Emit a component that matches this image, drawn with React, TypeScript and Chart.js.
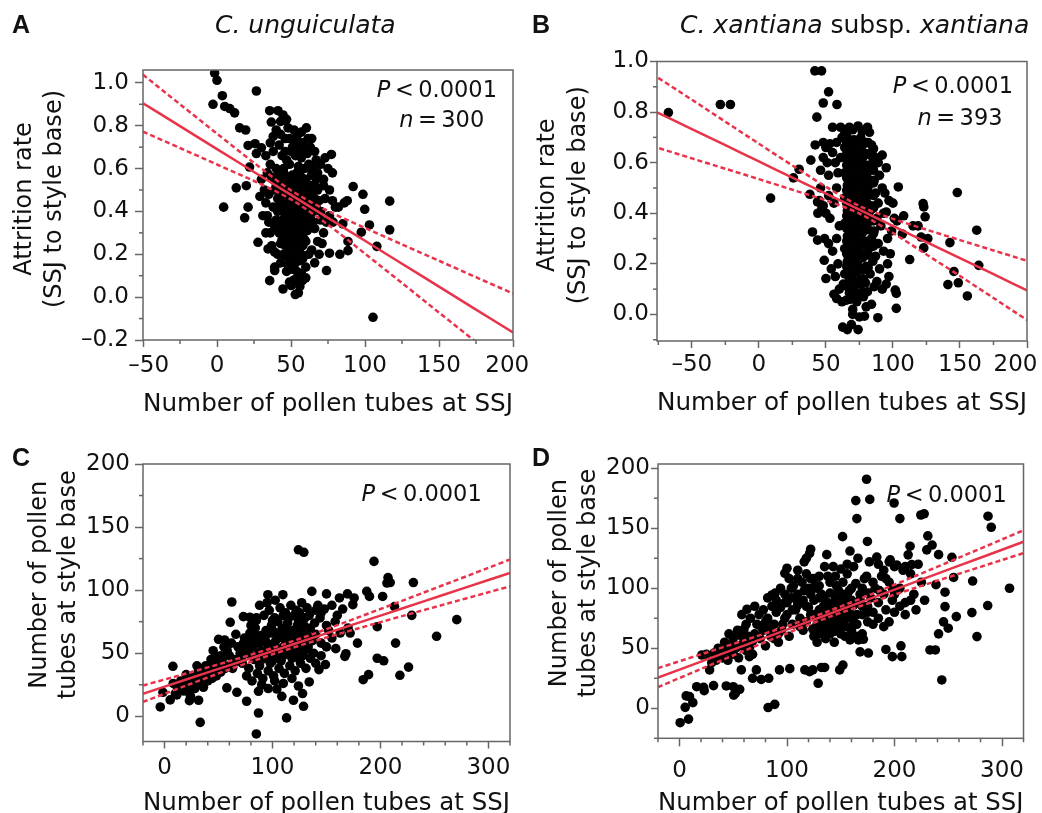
import React, { useEffect, useRef } from "react";
import { Chart, registerables } from "chart.js";

Chart.register(...registerables);

type Pt = [number, number];

const FONT = "'DejaVu Sans', 'Noto Sans', sans-serif";
const BOLD_FONT = "'Liberation Sans', Arial, sans-serif";
const RED = "#e8344b";
const AXIS = "#666666";
const INK = "#111111";

// ---------- Panel A: C. unguiculata, attrition vs pollen tubes at SSJ ----------
const pointsA: Pt[] = [
  [-1.6, 1.046], [0, 1.012], [26.6, 0.962], [3.6, 0.94], [-2.7, 0.9], [5.2, 0.89], [8.6, 0.88], [11.9, 0.86],
  [15.3, 0.79], [19.4, 0.78], [4.5, 0.42], [13, 0.51], [19.8, 0.52], [18.7, 0.37], [21, 0.42], [27.7, 0.256],
  [22, 0.607], [21, 0.708], [25.7, 0.716], [30, 0.697], [26.6, 0.67], [35.6, 0.87], [41.2, 0.87], [44.6, 0.85],
  [45.7, 0.825], [36.7, 0.817], [60.4, 0.79], [61.5, 0.74], [77.3, 0.666], [92, 0.516], [98.6, 0.48], [99.8, 0.41],
  [116.7, 0.448], [103, 0.337], [97.5, 0.303], [108, 0.237], [116.7, 0.314], [105.4, -0.094], [88.5, 0.26],
  [88.5, 0.217], [85, 0.342], [78.4, 0.35], [83, 0.2], [76, 0.205], [74, 0.124], [35.6, 0.077], [39, 0.124],
  [39, 0.14], [44.6, 0.038], [50.2, 0.054], [52.9, 0.012], [53.6, 0.085], [57.7, 0.077], [34.5, 0.225], [39, 0.21],
  [30, 0.55], [33, 0.44], [29, 0.47], [31, 0.38],
  [67, 0.64], [70, 0.62], [75, 0.6], [72, 0.55], [78, 0.58], [68, 0.5], [73, 0.46], [80, 0.42], [82, 0.42],
  [86, 0.44], [88, 0.45], [76, 0.38], [70, 0.36], [66, 0.32], [72, 0.3], [68, 0.26], [64, 0.22], [62, 0.2],
  [66, 0.16], [60, 0.14], [58, 0.18],
  [40, 0.78], [43, 0.76], [46, 0.74], [48, 0.79], [52, 0.73], [55, 0.7], [58, 0.72], [50, 0.68], [44, 0.66],
  [47, 0.64], [53, 0.66], [57, 0.65], [61, 0.67], [63, 0.7], [42, 0.71], [38, 0.68], [36, 0.62], [40, 0.6],
  [45, 0.6], [49, 0.62], [55, 0.61], [59, 0.6], [62, 0.62], [65, 0.6],
  [45, 0.58], [48, 0.56], [51, 0.57], [54, 0.58], [57, 0.56], [60, 0.55], [46, 0.53], [49, 0.52], [52, 0.54],
  [55, 0.52], [58, 0.51], [61, 0.5], [44, 0.49], [47, 0.48], [50, 0.49], [53, 0.47], [56, 0.48], [59, 0.46],
  [62, 0.47], [45, 0.44], [48, 0.43], [51, 0.44], [54, 0.42], [57, 0.43], [60, 0.41], [63, 0.43], [46, 0.39],
  [49, 0.38], [52, 0.4], [55, 0.37], [58, 0.38], [61, 0.36], [44, 0.34], [47, 0.33], [50, 0.35], [53, 0.32],
  [56, 0.33], [59, 0.31], [62, 0.34], [45, 0.29], [48, 0.28], [51, 0.3], [54, 0.27], [57, 0.28], [60, 0.26],
  [43, 0.25], [46, 0.24], [49, 0.23], [52, 0.25], [55, 0.22], [58, 0.24], [47, 0.19], [50, 0.18], [53, 0.2],
  [56, 0.17], [51, 0.13], [54, 0.12], [48, 0.15], [57, 0.11], [42, 0.3], [40, 0.36], [38, 0.42], [41, 0.46],
  [39, 0.5], [42, 0.54], [37, 0.56], [64, 0.52], [66, 0.46], [65, 0.4], [67, 0.55], [35, 0.48], [34, 0.38],
  [36, 0.3], [37, 0.24], [41, 0.2], [43, 0.16], [56, 0.05], [60, 0.09], [52, 0.08], [55, 0.02], [49, 0.07],
  [46.5, 0.555], [49.5, 0.545], [52.5, 0.56], [55.5, 0.545], [58.5, 0.535], [61.5, 0.525], [44.5, 0.51],
  [47.5, 0.505], [50.5, 0.515], [53.5, 0.5], [56.5, 0.5], [59.5, 0.49], [63, 0.49], [43, 0.465], [46, 0.46],
  [49, 0.465], [52, 0.455], [55, 0.46], [58, 0.45], [61, 0.445], [64, 0.46], [44, 0.415], [47, 0.41], [50, 0.42],
  [53, 0.41], [56, 0.405], [59, 0.4], [62, 0.41], [45, 0.365], [48, 0.36], [51, 0.37], [54, 0.355], [57, 0.36],
  [60, 0.35], [63, 0.37], [43, 0.32], [46, 0.31], [49, 0.315], [52, 0.3], [55, 0.305], [58, 0.3], [61, 0.31],
  [44, 0.27], [47, 0.26], [50, 0.265], [53, 0.255], [56, 0.26], [59, 0.27], [48, 0.21], [51, 0.2], [54, 0.21],
  [57, 0.2], [45, 0.2], [50, 0.155], [53, 0.16], [47, 0.12], [46, 0.68], [51, 0.7], [54, 0.75], [49, 0.74],
  [56, 0.67], [60, 0.69], [42, 0.58], [38, 0.55], [40, 0.52], [41, 0.4], [39, 0.33], [43, 0.44], [64, 0.57],
  [66, 0.52], [68, 0.58], [63, 0.6], [65, 0.35], [67, 0.42], [69, 0.45], [47, 0.83], [43, 0.82], [57, 0.77],
  [52, 0.78],
  [32, 0.5], [34, 0.58], [33, 0.66], [36, 0.72], [38, 0.75], [35, 0.35], [33, 0.3], [70, 0.4], [72, 0.52],
  [74, 0.35], [76, 0.5], [78, 0.45], [71, 0.25], [69, 0.2], [73, 0.65], [64, 0.74], [66, 0.68],
];
const lineXA = [-50, -25, 0, 25, 50, 75, 100, 125, 150, 175, 200];
const fitA = [0.905, 0.798, 0.691, 0.584, 0.477, 0.37, 0.263, 0.156, 0.049, -0.058, -0.165];
const upA = [1.038, 0.9, 0.763, 0.627, 0.498, 0.402, 0.323, 0.246, 0.17, 0.093, 0.017];
const loA = [0.772, 0.696, 0.619, 0.542, 0.456, 0.338, 0.203, 0.066, -0.072, -0.209, -0.347];

// ---------- Panel B: C. xantiana subsp. xantiana ----------
const pointsB: Pt[] = [
  [-67.5, 0.798], [-28.75, 0.83], [-21.25, 0.83], [8.75, 0.46], [25.75, 0.54], [30, 0.574], [38, 0.475],
  [41.75, 0.963], [46.75, 0.963], [52, 0.88], [48, 0.836], [58.25, 0.83], [43.25, 0.78], [38.75, 0.61], [42, 0.67],
  [48, 0.68], [50, 0.66], [53, 0.675], [40, 0.326], [43.75, 0.294], [48.75, 0.214], [50, 0.142], [56, 0.08],
  [58, 0.063], [65, 0.056], [70, 0.0], [74, -0.06], [62.5, -0.05], [66, -0.06], [78.75, -0.007], [88.75, -0.013],
  [102.5, 0.024], [101.75, 0.096], [102.5, 0.083], [104, 0.504], [108, 0.39], [107, 0.318], [112.5, 0.217],
  [115, 0.35], [118.75, 0.35], [122.5, 0.438], [123, 0.425], [124, 0.386], [121, 0.306], [126, 0.3], [123, 0.263],
  [148, 0.482], [142.5, 0.284], [145.5, 0.17], [148.75, 0.125], [141, 0.118], [155.5, 0.073], [162.5, 0.333],
  [164, 0.194], [95, 0.405], [100, 0.44], [101, 0.38], [103, 0.37], [43.75, 0.445], [48, 0.43],
  [55, 0.74], [61, 0.74], [67.5, 0.74], [74, 0.745], [81, 0.74], [82.5, 0.72], [64, 0.725], [70, 0.73], [77, 0.725],
  [46, 0.57], [48, 0.62], [51, 0.6], [52, 0.55], [55, 0.64], [57, 0.6], [45, 0.45], [47, 0.42], [50, 0.4],
  [53, 0.38], [56, 0.44], [58, 0.5], [49, 0.3], [52, 0.28], [55, 0.25], [58, 0.3], [54, 0.18], [57, 0.15],
  [59, 0.2], [60, 0.1], [62, 0.05], [63, 0.12], [60, 0.35], [59, 0.56], [58, 0.68], [62, 0.7], [61, 0.62],
  [44, 0.4], [46, 0.5], [52, 0.47],
  [66, 0.7], [71, 0.69], [76, 0.7], [80, 0.68], [84, 0.67],
  [64, 0.66], [69, 0.65], [73, 0.67], [78, 0.64], [83, 0.63], [87, 0.62],
  [66, 0.61], [71, 0.6], [75, 0.62], [79, 0.59], [85, 0.58], [89, 0.6],
  [64, 0.56], [68, 0.55], [73, 0.57], [77, 0.54], [81, 0.56], [86, 0.53], [90, 0.55],
  [66, 0.51], [70, 0.5], [74, 0.52], [78, 0.49], [82, 0.51], [87, 0.48], [92, 0.5],
  [64, 0.46], [69, 0.45], [72, 0.47], [76, 0.44], [80, 0.46], [84, 0.43], [89, 0.44],
  [66, 0.41], [71, 0.4], [75, 0.42], [79, 0.39], [83, 0.41], [88, 0.38], [93, 0.4],
  [64, 0.36], [68, 0.35], [73, 0.37], [77, 0.34], [81, 0.36], [86, 0.33], [91, 0.35],
  [66, 0.31], [70, 0.3], [75, 0.32], [79, 0.29], [84, 0.3], [89, 0.28],
  [64, 0.26], [69, 0.25], [73, 0.27], [77, 0.24], [82, 0.26], [87, 0.23], [93, 0.25],
  [66, 0.21], [71, 0.2], [75, 0.22], [80, 0.19], [85, 0.21], [90, 0.18], [96, 0.2],
  [64, 0.16], [69, 0.15], [73, 0.17], [78, 0.14], [83, 0.16], [88, 0.13], [97, 0.15],
  [66, 0.11], [71, 0.1], [76, 0.12], [81, 0.09], [86, 0.11], [92, 0.1],
  [68, 0.06], [73, 0.05], [78, 0.07], [84, 0.04], [70, 0.02], [75, -0.01], [80, 0.03], [69, -0.04],
  [92, 0.63], [95, 0.58], [94, 0.48], [97, 0.45], [96, 0.3], [99, 0.33], [98, 0.24], [95, 0.12],
  [65.5, 0.68], [69.5, 0.675], [73.5, 0.685], [77.5, 0.67], [81.5, 0.68], [85.5, 0.655],
  [65.5, 0.635], [69.5, 0.625], [73.5, 0.64], [77.5, 0.62], [81.5, 0.635], [85.5, 0.61],
  [65.5, 0.59], [69.5, 0.58], [73.5, 0.595], [77.5, 0.575], [81.5, 0.59], [85.5, 0.57],
  [65.5, 0.54], [69.5, 0.53], [73.5, 0.545], [77.5, 0.525], [81.5, 0.535], [85.5, 0.52],
  [65.5, 0.49], [69.5, 0.48], [73.5, 0.495], [77.5, 0.475], [81.5, 0.485], [85.5, 0.47],
  [65.5, 0.44], [69.5, 0.43], [73.5, 0.445], [77.5, 0.425], [81.5, 0.435], [85.5, 0.42],
  [65.5, 0.39], [69.5, 0.38], [73.5, 0.395], [77.5, 0.375], [81.5, 0.385], [85.5, 0.37],
  [65.5, 0.34], [69.5, 0.33], [73.5, 0.345], [77.5, 0.325], [81.5, 0.335], [85.5, 0.32],
  [65.5, 0.29], [69.5, 0.28], [73.5, 0.295], [77.5, 0.275], [81.5, 0.285], [85.5, 0.27],
  [65.5, 0.24], [69.5, 0.23], [73.5, 0.245], [77.5, 0.225], [81.5, 0.235],
  [65.5, 0.19], [69.5, 0.18], [73.5, 0.195], [77.5, 0.175], [81.5, 0.185],
  [67.5, 0.135], [71.5, 0.13], [75.5, 0.14], [79.5, 0.125], [67.5, 0.085], [72.5, 0.08], [77.5, 0.09],
];
const lineXB = [-80, -50, -25, 0, 25, 50, 75, 100, 125, 150, 175, 200];
const fitB = [0.809, 0.733, 0.669, 0.605, 0.541, 0.478, 0.414, 0.35, 0.286, 0.223, 0.159, 0.095];
const upB = [0.952, 0.849, 0.762, 0.675, 0.589, 0.505, 0.429, 0.378, 0.335, 0.294, 0.253, 0.212];
const loB = [0.666, 0.617, 0.576, 0.535, 0.493, 0.451, 0.399, 0.322, 0.237, 0.152, 0.065, -0.022];

// ---------- Panel C: C. unguiculata, tubes at style base vs at SSJ ----------
const pointsC: Pt[] = [
  [-4, 7.4], [-1.5, 19], [7.7, 39.6], [5.2, 13], [11.4, 17], [14.5, 21.7], [17.6, 27], [22, 28], [27, 25],
  [31.5, 28.5], [36, 23], [23, 12.4], [31.5, 12.7], [33, -4.8], [31.5, 35.7], [34.6, 37], [43, 45], [47, 47.5],
  [51.5, 42], [50, 61], [55.6, 60.5], [60.8, 74.5], [62.3, 90.6], [57.7, 22.5], [67, 19], [76, 11.9], [87, 2.6],
  [85, -14], [87, 19.8], [104, 21.6], [108.6, 15.8], [113, -1.3], [119.4, 12.7], [128.7, 7.9], [127.8, 18],
  [134, 27.2], [95.7, 96.4], [102.5, 92], [109.6, 96.4], [73, 79], [79, 78.5], [85, 78], [124, 132], [129, 130],
  [136.4, 99], [150, 97], [162, 93.8], [169.4, 97], [175.6, 93.8], [174.4, 88.5], [187.3, 99], [189.8, 95],
  [194, 122.8], [202, 95], [207, 110], [209, 106], [206, 105.6], [230.5, 106], [213, 87], [229, 80], [197, 71],
  [214, 58], [197, 46], [203, 44], [184, 29], [189, 33], [218, 32.5], [226, 39], [252, 63.4], [270.7, 76.6],
  [178.7, 58], [167, 47.5], [168, 49.6], [170, 70], [171.9, 66], [162.7, 66], [158.6, 53.6], [149, 41], [143, 37],
  [70, 50], [75, 55], [80, 48], [85, 60], [90, 52], [95, 58], [100, 50], [105, 62], [110, 55], [115, 65],
  [120, 58], [125, 68], [130, 62], [135, 70], [140, 65],
  [72, 42], [78, 38], [83, 45], [88, 40], [93, 46], [98, 42], [103, 48], [108, 44], [113, 50], [118, 46],
  [123, 52], [128, 48], [133, 55], [138, 50], [145, 58],
  [74, 62], [79, 66], [84, 70], [89, 64], [94, 68], [99, 72], [104, 66], [109, 70], [114, 74], [119, 68],
  [124, 76], [129, 72], [134, 80], [139, 74], [144, 78], [150, 72],
  [76, 32], [81, 28], [86, 34], [91, 30], [96, 36], [101, 32], [106, 38], [111, 34], [116, 40], [121, 36],
  [126, 42], [131, 38],
  [65, 45], [68, 55], [63, 38], [60, 48], [58, 52], [55, 40], [52, 48], [48, 36], [45, 38], [40, 33], [38, 40],
  [35, 30], [28, 32], [25, 22], [20, 25], [15, 28], [10, 18],
  [92, 80], [97, 84], [102, 78], [107, 86], [112, 82], [117, 88], [122, 84], [127, 90], [132, 86], [85, 76],
  [80, 72], [88, 88], [95, 90], [100, 76],
  [140, 42], [145, 48], [150, 55], [155, 62], [152, 68], [158, 75], [148, 85], [142, 88], [160, 80], [165, 85],
  [90, 25], [96, 22], [102, 28], [110, 26], [118, 30], [124, 24],
  [18, 20], [22, 24], [26, 30], [30, 33], [34, 34], [38, 36], [42, 38], [46, 42], [50, 44], [54, 46], [24, 16],
  [28, 22], [35, 26], [40, 28], [44, 30], [48, 32], [52, 35], [56, 38], [60, 40], [64, 42], [12, 22], [8, 26],
  [20, 33], [30, 40], [45, 52], [55, 55], [62, 58], [66, 65],
  [72, 48], [77, 52], [82, 55], [87, 50], [92, 60], [97, 54], [102, 56], [107, 52], [112, 60], [117, 56],
  [122, 62], [127, 58], [132, 64], [137, 60], [73, 58], [78, 60], [83, 64], [88, 58], [93, 62], [98, 66],
  [103, 60], [108, 64], [113, 68], [118, 62], [123, 72], [128, 66], [90, 45], [95, 48], [100, 44], [105, 46],
  [110, 48], [115, 52], [120, 50], [125, 45], [130, 52], [135, 46], [100, 68], [105, 75], [110, 80], [115, 78],
  [120, 80], [125, 82], [130, 78], [140, 84], [145, 82], [155, 88],
];
const lineXC = [-20, 20, 60, 100, 140, 180, 220, 260, 300, 320];
const fitC = [17.87, 29.13, 40.4, 51.67, 62.94, 74.21, 85.47, 96.74, 108.01, 113.64];
const upC = [24.37, 33.91, 43.7, 54.18, 65.95, 78.59, 91.53, 104.59, 117.7, 124.26];
const loC = [11.37, 24.35, 37.1, 49.16, 59.93, 69.83, 79.41, 88.89, 98.32, 103.02];

// ---------- Panel D: C. xantiana, tubes at style base vs at SSJ ----------
const pointsD: Pt[] = [
  [0.6, -12], [8.4, -9], [5.3, 0.8], [6.2, 10.3], [9.3, 9.7], [12.4, 4.7], [16, 18], [22.4, 17.5], [23, 14.7],
  [20.8, 44.4], [31.7, 18.9], [35.8, 47.8], [40, 50], [45, 48.6], [43.5, 18.6], [50, 18], [52, 12.5], [56, 15.8],
  [50.4, 11], [54.4, 62], [62.8, 82.5], [82.4, 0.6], [88.6, 3.3], [68, 25], [76, 24], [83, 25], [57.5, 32],
  [65, 43], [71.5, 32], [93, 32], [102.6, 33], [86, 94.4], [89, 96], [98, 112.5], [100, 116.7], [116, 122],
  [118, 125], [121, 129], [122, 132.5], [137, 128], [151.7, 143], [158.6, 131], [164, 173], [165, 158],
  [174, 190.8], [177, 174], [174.8, 139], [176.6, 122], [183.5, 126], [199.6, 171], [205, 158], [214.5, 135],
  [212.7, 127.8], [224.5, 161], [227.6, 162], [231, 143.6], [230, 132], [235, 136], [241, 128], [238.6, 103],
  [247, 96.7], [245.6, 72], [247, 84.7], [241, 62], [233, 48.6], [238, 48.6], [244, 23.6], [250, 66.7],
  [257.5, 76.4], [253.4, 125.8], [255, 109], [272.7, 106], [272, 79.7], [276.7, 59.7], [286.7, 85.6],
  [287, 160], [290, 150.8], [307, 100], [192, 49], [198, 43], [206.8, 43], [206, 52], [168, 47], [175.7, 46],
  [171, 57.5], [149, 32], [152, 36], [121, 30.5], [116.6, 32], [124, 32], [129, 20.8], [132, 34], [135, 34],
  [158.6, 57], [166.4, 57], [210, 118], [216, 119.7], [196, 123.6], [202, 119.4],
  [45, 40], [50, 45], [55, 42], [48, 52], [60, 55], [65, 50], [58, 60], [70, 62], [62, 48], [68, 45], [75, 58],
  [72, 70], [78, 65], [80, 52], [85, 60], [82, 75], [88, 70], [90, 80], [95, 65], [92, 55], [98, 75], [100, 88],
  [105, 70], [102, 60], [108, 82], [110, 95], [112, 75], [115, 65], [118, 85], [120, 100], [122, 78], [125, 90],
  [128, 70], [130, 82], [132, 95], [135, 75], [138, 88], [140, 68], [142, 80], [145, 92], [148, 76], [150, 85],
  [152, 70], [155, 90], [158, 80], [160, 100], [162, 72], [165, 88], [168, 95], [170, 78], [172, 108], [175, 85],
  [178, 92], [180, 70], [182, 100], [185, 88], [188, 110], [190, 95], [192, 82], [195, 105], [198, 90],
  [200, 118], [205, 100], [208, 115], [210, 88], [215, 112], [218, 95], [222, 120], [225, 105], [228, 90],
  [125, 60], [128, 55], [132, 65], [136, 58], [140, 62], [144, 55], [138, 72], [134, 85], [130, 92], [126, 102],
  [122, 108], [118, 112], [114, 105], [110, 115], [106, 102], [102, 108], [98, 95], [94, 100], [90, 90],
  [86, 85], [82, 92], [78, 82], [74, 78], [70, 85], [66, 75], [62, 70], [58, 78], [54, 65], [50, 58], [46, 62],
  [42, 55], [38, 45], [34, 40], [30, 38], [28, 32], [25, 45], [145, 70], [150, 62], [155, 75], [160, 65],
  [165, 60], [148, 98], [152, 105], [156, 112], [162, 118], [166, 125], [145, 110], [140, 105], [135, 118],
  [130, 110], [170, 62], [175, 72], [180, 80], [185, 75], [190, 68], [195, 72], [200, 80], [185, 120], [190, 115],
  [195, 122], [200, 95], [205, 85], [210, 78], [215, 90], [220, 82], [160, 90], [165, 78], [155, 85], [150, 80],
  [145, 88], [140, 78],
  [100, 78], [105, 82], [110, 86], [115, 90], [120, 84], [125, 78], [130, 76], [135, 82], [140, 86], [145, 80],
  [150, 74], [155, 68], [160, 75], [165, 70], [170, 85], [175, 80], [112, 68], [118, 72], [124, 66], [130, 62],
  [136, 68], [142, 72], [148, 66], [154, 60], [160, 58], [104, 92], [110, 88], [116, 98], [122, 95], [128, 100],
  [134, 92], [140, 96], [146, 102], [152, 95], [158, 98], [164, 104], [170, 100], [176, 96], [96, 70], [92, 62],
  [88, 58], [84, 66], [80, 72], [76, 68], [72, 60], [68, 56], [64, 60], [60, 66], [56, 52], [52, 50], [48, 46],
  [44, 48], [40, 42], [36, 50], [32, 46], [125, 108], [130, 102], [138, 110], [143, 118], [150, 116], [156, 120],
  [110, 108], [104, 100], [98, 88], [94, 84], [132, 72], [138, 64], [144, 64], [150, 90], [156, 94], [162, 86],
  [168, 90], [174, 110], [180, 105], [186, 98], [192, 108], [198, 100],
];
const lineXD = [-20, 20, 60, 100, 140, 180, 220, 260, 300, 320];
const fitD = [25.54, 38.86, 52.18, 65.5, 78.82, 92.14, 105.46, 118.78, 132.1, 138.76];
const upD = [33.44, 44.94, 56.54, 68.48, 81.34, 95.54, 110.4, 125.49, 140.66, 148.26];
const loD = [17.64, 32.78, 47.82, 62.52, 76.3, 88.74, 100.52, 112.07, 123.54, 129.26];

const xTitle = "Number of pollen tubes at SSJ";
const yTitleTop = ["\u2002Attrition rate", "\u2002(SSJ to style base)"];
const yTitleBottom = ["\u2002\u2002\u2002Number of pollen", "\u2002\u2002\u2002tubes at style base"];

type Part = [string, "i" | "n" | "b"];
interface TextItem { parts: Part[]; x: number; y: number; align: "left" | "right" | "center"; size: number }
interface Panel {
  cv: { left: number; top: number; w: number; h: number };
  area: { l: number; r: number; t: number; b: number };
  xMin: number; xMax: number; yMin: number; yMax: number;
  xStep: number; yStep: number; xMinor: number; yMinor: number;
  xFmt: (v: number) => string; yFmt: (v: number) => string;
  xTick: { len: number; pad: number }; yTick: { len: number; pad: number };
  xTitleY: number; yTitleX: number; yTitleLH: number; yTitle: string[];
  points: Pt[]; lineX: number[]; fit: number[]; up: number[]; lo: number[];
  texts: TextItem[];
}

const dash = (v: number) => (v < 0 ? "\u2013" : "") + Math.abs(v);
const dec = (v: number) => (v < -1e-9 ? "\u2013" : "") + Math.abs(v).toFixed(1);

const panels: Panel[] = [
  {
    cv: { left: 0, top: 0, w: 548, h: 430 },
    area: { l: 143, r: 513, t: 70, b: 340 },
    xMin: -50, xMax: 200, yMin: -0.2, yMax: 1.06, xStep: 50, yStep: 0.2, xMinor: 25, yMinor: 0.1,
    xFmt: (v) => (v === -50 ? "\u2002\u201350" : v === 200 ? "200\u2002" : dash(v)), yFmt: dec,
    xTick: { len: 7, pad: 5.5 }, yTick: { len: 8, pad: 6 },
    xTitleY: 404.6, yTitleX: 24.5, yTitleLH: 30.5, yTitle: yTitleTop,
    points: pointsA, lineX: lineXA, fit: fitA, up: upA, lo: loA,
    texts: [
      { parts: [["A", "b"]], x: 12, y: 33, align: "left", size: 25 },
      { parts: [["C. unguiculata", "i"]], x: 215, y: 33, align: "left", size: 25 },
      { parts: [["P", "i"], ["\u2009<\u20090.0001", "n"]], x: 497, y: 96.7, align: "right", size: 22.5 },
      { parts: [["n", "i"], ["\u2009=\u2009300", "n"]], x: 441.7, y: 126.7, align: "center", size: 22.5 },
    ],
  },
  {
    cv: { left: 521, top: 0, w: 521, h: 430 },
    area: { l: 657, r: 1027, t: 61.5, b: 341 },
    xMin: -76, xMax: 200, yMin: -0.105, yMax: 1.0, xStep: 50, yStep: 0.2, xMinor: 25, yMinor: 0.1,
    xFmt: (v) => (v === 200 ? "200\u2003" : dash(v)), yFmt: dec,
    xTick: { len: 7, pad: 3 }, yTick: { len: 7, pad: 1 },
    xTitleY: 403, yTitleX: 548, yTitleLH: 30.5, yTitle: yTitleTop,
    points: pointsB, lineX: lineXB, fit: fitB, up: upB, lo: loB,
    texts: [
      { parts: [["B", "b"]], x: 532, y: 33, align: "left", size: 25 },
      { parts: [["C. xantiana", "i"], [" subsp. ", "n"], ["xantiana", "i"]], x: 680, y: 33, align: "left", size: 25 },
      { parts: [["P", "i"], ["\u2009<\u20090.0001", "n"]], x: 1013, y: 93.3, align: "right", size: 22.5 },
      { parts: [["n", "i"], ["\u2009=\u2009393", "n"]], x: 960, y: 125, align: "center", size: 22.5 },
    ],
  },
  {
    cv: { left: 0, top: 406, w: 521, h: 420 },
    area: { l: 143, r: 510, t: 464, b: 741.5 },
    xMin: -20, xMax: 320, yMin: -20, yMax: 200, xStep: 100, yStep: 50, xMinor: 20, yMinor: 25,
    xFmt: dash, yFmt: dash,
    xTick: { len: 7, pad: 6 }, yTick: { len: 8, pad: 5 },
    xTitleY: 803, yTitleX: 40, yTitleLH: 28.8, yTitle: yTitleBottom,
    points: pointsC, lineX: lineXC, fit: fitC, up: upC, lo: loC,
    texts: [
      { parts: [["C", "b"]], x: 12, y: 466, align: "left", size: 25 },
      { parts: [["P", "i"], ["\u2009<\u20090.0001", "n"]], x: 481.7, y: 500.7, align: "right", size: 22.5 },
    ],
  },
  {
    cv: { left: 521, top: 406, w: 521, h: 420 },
    area: { l: 658, r: 1023.5, t: 464, b: 738.3 },
    xMin: -20, xMax: 320, yMin: -25, yMax: 203.5, xStep: 100, yStep: 50, xMinor: 20, yMinor: 25,
    xFmt: dash, yFmt: dash,
    xTick: { len: 8, pad: 11 }, yTick: { len: 7, pad: 1 },
    xTitleY: 803, yTitleX: 560, yTitleLH: 28.8, yTitle: yTitleBottom,
    points: pointsD, lineX: lineXD, fit: fitD, up: upD, lo: loD,
    texts: [
      { parts: [["D", "b"]], x: 532, y: 466, align: "left", size: 25 },
      { parts: [["P", "i"], ["\u2009<\u20090.0001", "n"]], x: 1006.7, y: 501.7, align: "right", size: 22.5 },
    ],
  },
];

function fontOf(style: string, size: number) {
  if (style === "b") return `bold ${size}px ${BOLD_FONT}`;
  return `${style === "i" ? "italic " : ""}${size}px ${FONT}`;
}

function drawRich(ctx: CanvasRenderingContext2D, t: TextItem, ox: number, oy: number) {
  const widths = t.parts.map(([s, st]) => {
    ctx.font = fontOf(st, t.size);
    return ctx.measureText(s).width;
  });
  const total = widths.reduce((a, b) => a + b, 0);
  let x = t.align === "left" ? t.x : t.align === "right" ? t.x - total : t.x - total / 2;
  ctx.textAlign = "left";
  ctx.textBaseline = "alphabetic";
  ctx.fillStyle = INK;
  t.parts.forEach(([s, st], i) => {
    ctx.font = fontOf(st, t.size);
    ctx.fillText(s, x - ox, t.y - oy);
    x += widths[i];
  });
}

function makeChart(canvas: HTMLCanvasElement, p: Panel) {
  const { cv, area } = p;
  const xTitleSize = 25;
  const xTitleLH = xTitleSize * 1.2;
  const padTop = area.t - cv.top;
  const padRight = cv.left + cv.w - area.r;
  const padBottom = cv.top + cv.h - p.xTitleY - xTitleLH / 2;
  const xH = cv.top + cv.h - padBottom - area.b;
  const yW = area.l - cv.left;
  const yTitlePad = p.yTitleX - cv.left - p.yTitleLH / 2;
  const zeroPad = (s: any) => {
    s.paddingLeft = 0;
    s.paddingRight = 0;
    s.paddingTop = 0;
    s.paddingBottom = 0;
  };

  const overlay = {
    id: "overlay" + cv.left + "_" + cv.top,
    afterDraw(chart: any) {
      const ctx: CanvasRenderingContext2D = chart.ctx;
      const xs = chart.scales.x;
      const ys = chart.scales.y;
      const { left, right, top, bottom } = chart.chartArea;
      ctx.save();
      ctx.strokeStyle = AXIS;
      ctx.lineWidth = 1.5;
      const isMajor = (v: number, step: number) => {
        const r = v / step;
        return Math.abs(r - Math.round(r)) < 1e-6;
      };
      for (let k = Math.ceil(xs.min / p.xMinor - 1e-9); k * p.xMinor <= xs.max + 1e-9; k++) {
        const v = k * p.xMinor;
        if (isMajor(v, p.xStep)) continue;
        const px = xs.getPixelForValue(v);
        ctx.beginPath();
        ctx.moveTo(px, bottom);
        ctx.lineTo(px, bottom + 4);
        ctx.stroke();
      }
      for (let k = Math.ceil(ys.min / p.yMinor - 1e-9); k * p.yMinor <= ys.max + 1e-9; k++) {
        const v = k * p.yMinor;
        if (isMajor(v, p.yStep)) continue;
        const py = ys.getPixelForValue(v);
        ctx.beginPath();
        ctx.moveTo(left, py);
        ctx.lineTo(left - 4, py);
        ctx.stroke();
      }
      ctx.strokeRect(left, top, right - left, bottom - top);
      p.texts.forEach((t) => drawRich(ctx, t, cv.left, cv.top));
      ctx.restore();
    },
  };

  const mkLine = (ys: number[], dashPattern: number[]) => ({
    data: p.lineX.map((x, i) => ({ x, y: ys[i] })),
    showLine: true,
    borderColor: RED,
    backgroundColor: RED,
    borderWidth: 2.5,
    borderDash: dashPattern,
    pointRadius: 0,
    pointHoverRadius: 0,
    tension: 0.3,
    fill: false,
  });

  return new Chart(canvas, {
    type: "scatter",
    data: {
      datasets: [
        mkLine(p.fit, []),
        mkLine(p.up, [5, 3]),
        mkLine(p.lo, [5, 3]),
        {
          data: p.points.map(([x, y]) => ({ x, y })),
          backgroundColor: "#000000",
          borderWidth: 0,
          pointRadius: 4.8,
          pointHoverRadius: 4.8,
        },
      ] as any,
    },
    options: {
      responsive: false,
      maintainAspectRatio: false,
      animation: false,
      devicePixelRatio: 1,
      events: [],
      layout: { padding: { top: padTop, right: padRight, bottom: padBottom, left: 0 } },
      plugins: { legend: { display: false }, tooltip: { enabled: false }, title: { display: false } },
      scales: {
        x: {
          type: "linear",
          position: "bottom",
          min: p.xMin,
          max: p.xMax,
          afterFit: (s: any) => {
            s.height = xH;
            zeroPad(s);
          },
          border: { display: false },
          grid: {
            display: true,
            drawOnChartArea: false,
            drawTicks: true,
            tickLength: p.xTick.len,
            tickColor: AXIS,
            tickWidth: 1.5,
          },
          ticks: {
            stepSize: p.xStep,
            autoSkip: false,
            maxRotation: 0,
            minRotation: 0,
            includeBounds: false,
            padding: p.xTick.pad,
            color: INK,
            font: { family: FONT, size: 23 },
            callback: (v: any) => p.xFmt(Number(v)),
          },
          title: {
            display: true,
            text: xTitle,
            color: INK,
            font: { family: FONT, size: xTitleSize, lineHeight: 1.2 },
            padding: 0,
          },
        },
        y: {
          type: "linear",
          position: "left",
          min: p.yMin,
          max: p.yMax,
          afterFit: (s: any) => {
            s.width = yW;
            zeroPad(s);
          },
          border: { display: false },
          grid: {
            display: true,
            drawOnChartArea: false,
            drawTicks: true,
            tickLength: p.yTick.len,
            tickColor: AXIS,
            tickWidth: 1.5,
          },
          ticks: {
            stepSize: p.yStep,
            autoSkip: false,
            includeBounds: false,
            padding: p.yTick.pad,
            color: INK,
            font: { family: FONT, size: 23 },
            callback: (v: any) => p.yFmt(Number(v)),
          },
          title: {
            display: true,
            text: p.yTitle,
            color: INK,
            font: { family: FONT, size: 24, lineHeight: p.yTitleLH / 24 },
            padding: { top: yTitlePad, bottom: 0 },
          },
        },
      },
    } as any,
    plugins: [overlay],
  });
}

function PanelCanvas({ p }: { p: Panel }) {
  const ref = useRef<HTMLCanvasElement | null>(null);
  useEffect(() => {
    if (!ref.current) return;
    const chart = makeChart(ref.current, p);
    return () => chart.destroy();
  }, [p]);
  return (
    <canvas
      ref={ref}
      width={p.cv.w}
      height={p.cv.h}
      style={{
        position: "absolute",
        left: p.cv.left,
        top: p.cv.top,
        width: p.cv.w,
        height: p.cv.h,
      }}
    />
  );
}

export default function App() {
  return (
    <div
      style={{
        position: "absolute",
        left: 0,
        top: 0,
        width: 1042,
        height: 813,
        overflow: "hidden",
        background: "#ffffff",
      }}
    >
      {panels.map((p, i) => (
        <PanelCanvas key={i} p={p} />
      ))}
    </div>
  );
}
